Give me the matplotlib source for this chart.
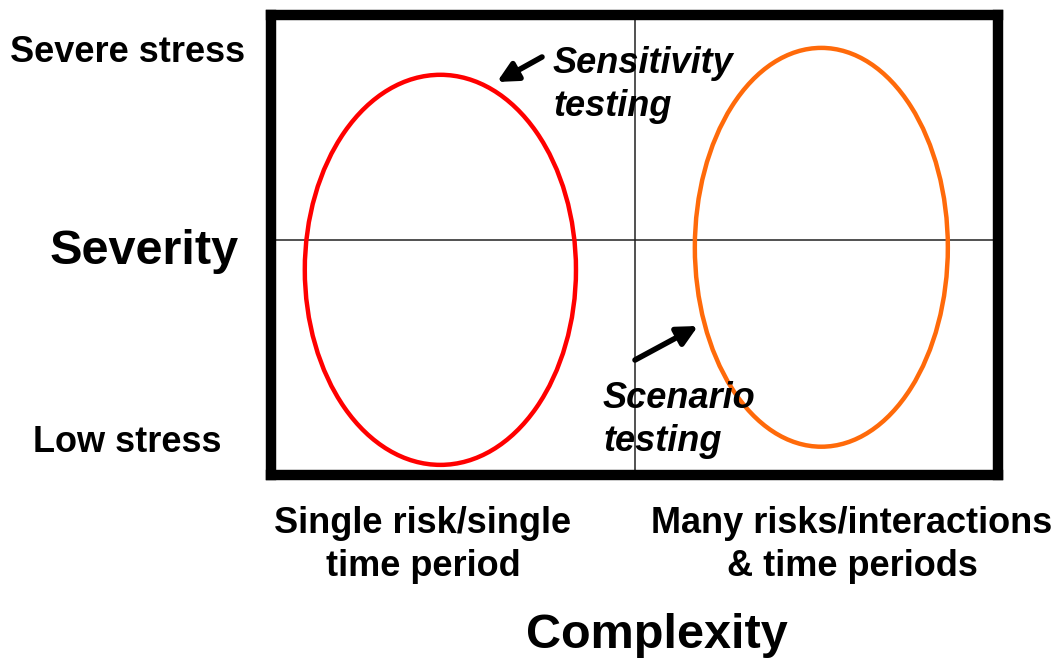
import matplotlib.pyplot as plt
from matplotlib.patches import Ellipse

W, H = 1058, 662

# box edges in pixels (left, right, top, bottom)
box_px = (271, 998, 15, 475)

# ellipses in box units (0..1): center x, center y, width, height
ell_names = ["Sensitivity testing", "Scenario testing"]
ell_cx = [0.233, 0.757]
ell_cy = [0.446, 0.495]
ell_w = [0.373, 0.348]
ell_h = [0.848, 0.867]
ell_colors = ["#ff0000", "#ff6a0a"]

# divider positions in box units
div_x = 0.5
div_y = 0.511

y_labels = ["Severe stress", "Low stress"]
x_labels = ["Single risk/single\ntime period", "Many risks/interactions\n& time periods"]

plt.rcParams['font.family'] = ['Liberation Sans', 'DejaVu Sans']

fig = plt.figure(figsize=(W / 100, H / 100), dpi=100)

l, r, t, b = box_px
ax = fig.add_axes([l / W, 1 - b / H, (r - l) / W, (b - t) / H])
ax.set_xlim(0, 1)
ax.set_ylim(0, 1)
ax.set_xticks([])
ax.set_yticks([])
for s in ax.spines.values():
    s.set_linewidth(7.5)
    s.set_color("black")
    s.set_capstyle("projecting")

ax.axvline(div_x, color="#222222", lw=1.1, zorder=1)
ax.axhline(div_y, color="#222222", lw=1.1, zorder=1)

for cx, cy, w, h, c in zip(ell_cx, ell_cy, ell_w, ell_h, ell_colors):
    ax.add_patch(Ellipse((cx, cy), w, h, fill=False, edgecolor=c, lw=3.2, zorder=2))

# overlay in pixel coords for labels and arrows
ov = fig.add_axes([0, 0, 1, 1], facecolor="none")
ov.set_xlim(0, W)
ov.set_ylim(H, 0)
ov.axis("off")

small, big = 26, 35
ls = 1.28
ov.text(10, 52, y_labels[0], fontsize=small, fontweight="bold", ha="left", va="center")
ov.text(33, 442, y_labels[1], fontsize=small, fontweight="bold", ha="left", va="center")
ov.text(50, 252, "Severity", fontsize=big, fontweight="bold", ha="left", va="center")

ov.text(423, 545, x_labels[0], fontsize=small, fontweight="bold", ha="center", va="center",
        linespacing=ls)
ov.text(852, 545, x_labels[1], fontsize=small, fontweight="bold", ha="center", va="center",
        linespacing=ls)
ov.text(657, 636, "Complexity", fontsize=big, fontweight="bold", ha="center", va="center")

ov.text(553, 85, "Sensitivity\ntesting", fontsize=small, fontweight="bold", style="italic",
        ha="left", va="center", linespacing=ls)
ov.text(603, 420, "Scenario\ntesting", fontsize=small, fontweight="bold", style="italic",
        ha="left", va="center", linespacing=ls)

arrow = dict(arrowstyle="-|>", lw=4, color="black", mutation_scale=30,
             shrinkA=0, shrinkB=0)
ov.annotate("", xy=(497, 82), xytext=(542, 57), arrowprops=arrow)
ov.annotate("", xy=(698, 326), xytext=(635, 360), arrowprops=arrow)

fig.savefig("out.png", dpi=100)
